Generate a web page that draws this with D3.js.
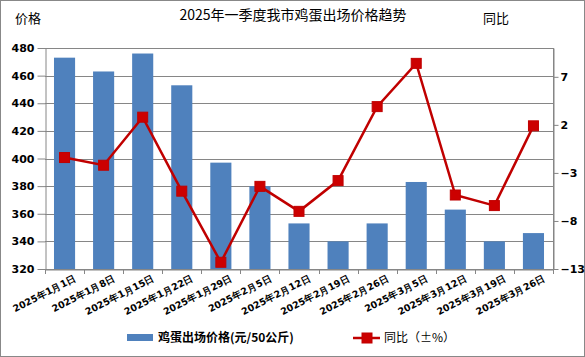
<!DOCTYPE html>
<html><head><meta charset="utf-8">
<script src="https://cdn.jsdelivr.net/npm/d3@7"></script>
<style>body{margin:0;background:#fff}svg{display:block}</style>
</head><body>
<script>
const categories = ["2025年1月1日","2025年1月8日","2025年1月15日","2025年1月22日","2025年1月29日","2025年2月5日","2025年2月12日","2025年2月19日","2025年2月26日","2025年3月5日","2025年3月12日","2025年3月19日","2025年3月26日"];
const priceValues = [473,463,476,453,397,380,353,340,353,383,363,340,346];
const yoyValues = [-1.4,-2.2,2.8,-4.9,-12.3,-4.4,-7.0,-3.8,3.9,8.4,-5.3,-6.4,1.9];
const leftTicks = [320,340,360,380,400,420,440,460,480];
const rightTicks = [-13,-8,-3,2,7];
const title = "2025年一季度我市鸡蛋出场价格趋势";
const leftTitle = "价格", rightTitle = "同比";
const legendBar = "鸡蛋出场价格(元/50公斤)", legendLine = "同比（±%）";

const W=585,H=357;
const m={l:45,r:553,t:48,b:269};
const svg=d3.select("body").append("svg").attr("width",W).attr("height",H);
svg.append("rect").attr("x",0.5).attr("y",0.5).attr("width",W-1).attr("height",H-1).attr("fill","#fff").attr("stroke","#888");

const x=d3.scaleBand().domain(categories).range([m.l,m.r]).paddingInner(0.46).paddingOuter(0.23);
const y=d3.scaleLinear().domain([320,480]).range([m.b,m.t]);
const y2=d3.scaleLinear().domain([-13,10]).range([m.b,m.t]);

// gridlines
svg.append("g").selectAll("line").data(leftTicks).join("line")
 .attr("x1",m.l).attr("x2",m.r).attr("y1",d=>Math.round(y(d))+0.5).attr("y2",d=>Math.round(y(d))+0.5)
 .attr("stroke","#868686").attr("stroke-width",1);
svg.append("line").attr("x1",m.r+0.5).attr("x2",m.r+0.5).attr("y1",m.t).attr("y2",m.b).attr("stroke","#868686");

// bars
svg.append("g").selectAll("rect").data(priceValues).join("rect")
 .attr("x",(d,i)=>x(categories[i])).attr("width",x.bandwidth())
 .attr("y",d=>y(d)).attr("height",d=>y(320)-y(d)).attr("fill","#4F81BD");

// left axis
const ga=svg.append("g").attr("transform",`translate(${m.l+0.5},0)`)
 .call(d3.axisLeft(y).tickValues(leftTicks).tickSize(8).tickSizeOuter(0).tickPadding(3));
ga.select(".domain").attr("stroke","#868686");
ga.selectAll(".tick line").attr("stroke","#868686");
ga.selectAll("text").attr("font-family","DejaVu Sans").attr("font-weight","bold").attr("font-size",11).attr("fill","#000");

// right axis
const gr=svg.append("g").attr("transform",`translate(${m.r+0.5},0)`)
 .call(d3.axisRight(y2).tickValues(rightTicks).tickSize(5).tickSizeOuter(0).tickPadding(2));
gr.select(".domain").attr("stroke","#868686");
gr.selectAll(".tick line").attr("stroke","#868686");
gr.selectAll("text").attr("font-family","DejaVu Sans").attr("font-weight","bold").attr("font-size",11).attr("fill","#000");

// bottom axis
const gb=svg.append("g").attr("transform",`translate(0,${m.b+0.5})`)
 .call(d3.axisBottom(x).tickSize(0).tickSizeOuter(0).tickPadding(0));
gb.select(".domain").attr("stroke","#868686");
const step=x.step();
svg.append("g").selectAll("line").data(d3.range(categories.length+1)).join("line")
 .attr("x1",i=>Math.round(m.l+i*step)+0.5).attr("x2",i=>Math.round(m.l+i*step)+0.5)
 .attr("y1",m.b).attr("y2",m.b+5).attr("stroke","#868686");
gb.selectAll("text").attr("font-family","DejaVu Sans").attr("font-weight","bold").attr("font-size",9.5).attr("fill","#000")
 .attr("text-anchor","end").attr("dy",0)
 .attr("transform",function(){return `translate(${x.bandwidth()/2+2},11) rotate(-27)`;});

// line
const line=d3.line().x((d,i)=>x(categories[i])+x.bandwidth()/2).y(d=>y2(d));
svg.append("path").datum(yoyValues).attr("d",line).attr("fill","none").attr("stroke","#C00000").attr("stroke-width",2.5);
svg.append("g").selectAll("rect").data(yoyValues).join("rect")
 .attr("x",(d,i)=>x(categories[i])+x.bandwidth()/2-5).attr("y",d=>y2(d)-5)
 .attr("width",10).attr("height",10).attr("fill","#CC0000").attr("stroke","#C00000");

// titles
svg.append("text").attr("x",293).attr("y",20).attr("text-anchor","middle").attr("font-family","Noto Sans CJK SC").attr("font-size",14).text(title);
svg.append("text").attr("x",15).attr("y",23).attr("font-family","Noto Sans CJK SC").attr("font-size",13).text(leftTitle);
svg.append("text").attr("x",483).attr("y",23).attr("font-family","Noto Sans CJK SC").attr("font-size",13).text(rightTitle);

// legend
svg.append("rect").attr("x",127).attr("y",334).attr("width",26).attr("height",7).attr("fill","#4F81BD");
svg.append("text").attr("x",158).attr("y",342).attr("font-family","Noto Sans CJK SC").attr("font-weight","bold").attr("font-size",12).text(legendBar);
svg.append("line").attr("x1",353).attr("x2",380).attr("y1",338).attr("y2",338).attr("stroke","#C00000").attr("stroke-width",2.5);
svg.append("rect").attr("x",362).attr("y",333).attr("width",10).attr("height",10).attr("fill","#CC0000").attr("stroke","#C00000");
svg.append("text").attr("x",384).attr("y",342).attr("font-family","Noto Sans CJK SC").attr("font-size",12).text(legendLine);
</script>
</body></html>
